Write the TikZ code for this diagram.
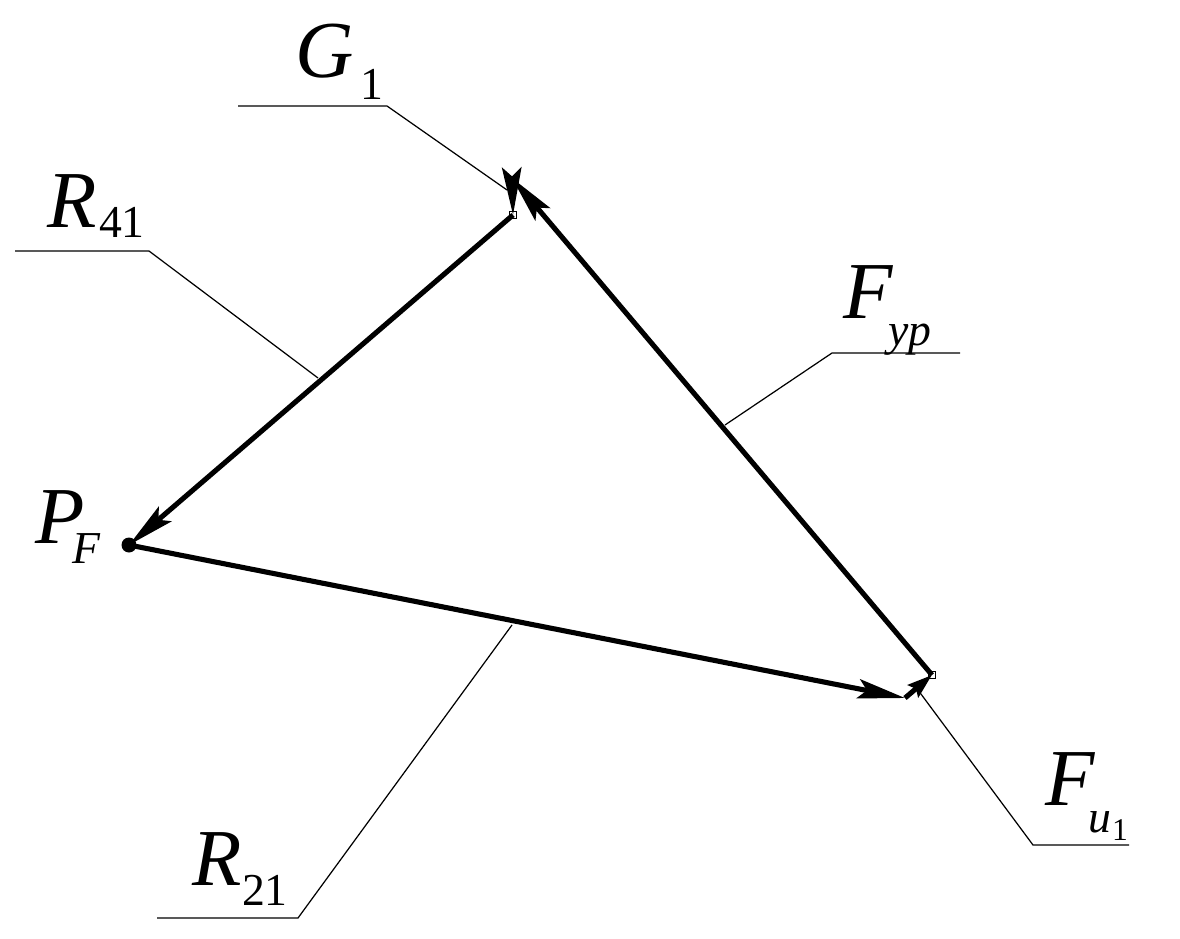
\documentclass[tikz,border=0pt]{standalone}
\usepackage{fontspec}
\setmainfont{Liberation Serif}
\usetikzlibrary{arrows.meta}
\newcommand{\biglet}[1]{{\fontsize{46}{46}\selectfont\itshape #1}}
\newcommand{\smalllet}[1]{{\fontsize{26}{26}\selectfont #1}}
\begin{document}
\begin{tikzpicture}[x=0.02cm,y=-0.02cm,
	force/.style={line width=2.9pt,-{Stealth[length=27pt,width=11pt,inset=5pt]}},
	shortforce/.style={line width=2.9pt,-{Stealth[length=14pt,width=9pt,inset=2pt]}},
	leader/.style={line width=0.7pt},
	lbl/.style={anchor=base west,inner sep=0pt,outer sep=0pt},
	pin/.style={draw,line width=0.8pt,fill=white,minimum size=4pt,inner sep=0pt}]
	\useasboundingbox (0,0) rectangle (1180,939);
	% polygon
	\coordinate (pf) at (129,545);
	\coordinate (c) at (905,698);
	\coordinate (d) at (932,675);
	\coordinate (a) at (512,178);
	\coordinate (b) at (513,215);
	\node[pin] (pb) at (b) {};
	\node[pin] (pd) at (d) {};
	\fill (pf) circle (7.5);
	\draw[force] (a) -- (b);
	\draw[force] (b) -- (pf);
	\draw[force] (pf) -- (c);
	\draw[shortforce] (c) -- (d);
	\draw[force] (d) -- (a);
	% leaders
	\coordinate (g1) at (238,106);
	\coordinate (g2) at (387,106);
	\coordinate (g3) at (507,190);
	\coordinate (r1) at (15,251);
	\coordinate (r2) at (149,251);
	\coordinate (r3) at (318,378);
	\coordinate (y1) at (960,353);
	\coordinate (y2) at (832,353);
	\coordinate (y3) at (725,425);
	\coordinate (u1) at (1129,845);
	\coordinate (u2) at (1033,845);
	\coordinate (u3) at (918,690);
	\coordinate (s1) at (157,918);
	\coordinate (s2) at (298,918);
	\coordinate (s3) at (512,625);
	\draw[leader] (g1) -- (g2) -- (g3);
	\draw[leader] (r1) -- (r2) -- (r3);
	\draw[leader] (y1) -- (y2) -- (y3);
	\draw[leader] (u1) -- (u2) -- (u3);
	\draw[leader] (s1) -- (s2) -- (s3);
	% labels
	\node[lbl] (lg) at (295,78) {\biglet{G}};
	\node[lbl] (lgs) at (360,100) {\smalllet{1}};
	\node[lbl] (lr) at (48,228) {\biglet{R}};
	\node[lbl] (lrs) at (99,238) {\smalllet{41}};
	\node[lbl] (ly) at (843,318) {\biglet{F}};
	\node[lbl] (lys) at (888,345) {\smalllet{\itshape yp}};
	\node[lbl] (lp) at (35,543) {\biglet{P}};
	\node[lbl] (lps) at (72,563) {\smalllet{\itshape F}};
	\node[lbl] (lu) at (1045,805) {\biglet{F}};
	\node[lbl] (lus) at (1088,832) {\smalllet{\itshape u}};
	\node[lbl] (lus1) at (1112,840) {{\fontsize{18}{18}\selectfont 1}};
	\node[lbl] (ls) at (192,885) {\biglet{R}};
	\node[lbl] (lss) at (242,905) {\smalllet{21}};
\end{tikzpicture}
\end{document}
